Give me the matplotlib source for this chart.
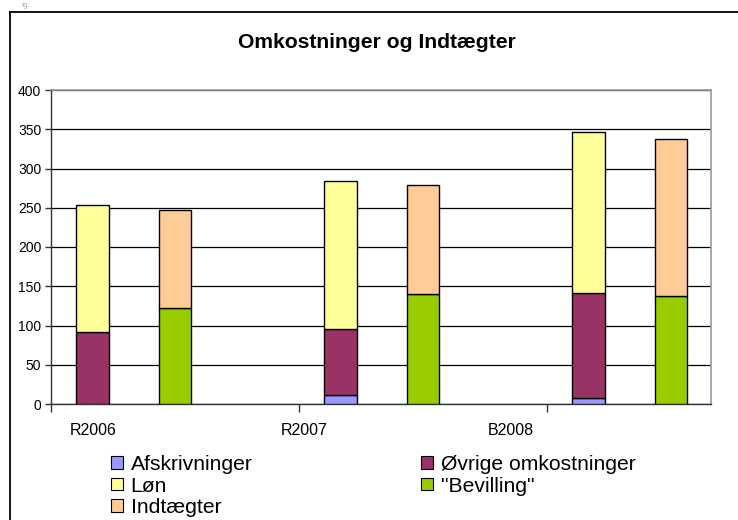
import matplotlib
matplotlib.use("Agg")
import matplotlib.pyplot as plt
import numpy as np
from matplotlib.patches import Patch
from matplotlib.lines import Line2D

plt.rcParams['font.family'] = ['Liberation Sans', 'DejaVu Sans']

# ---- data ----
categories = ["R2006", "R2007", "B2008"]
afskrivninger = [0, 11, 8]
oevrige = [92, 84, 133]
loen = [162, 189, 206]
bevilling = [122, 140, 137]
indtaegter = [125, 139, 201]
yticks = [0, 50, 100, 150, 200, 250, 300, 350, 400]

# ---- styles / layout ----
C_AFS = "#9999FF"
C_OEV = "#993366"
C_LOEN = "#FFFF99"
C_BEV = "#99CC00"
C_IND = "#FFCC99"

W, H = 738, 520
fig = plt.figure(figsize=(W / 100, H / 100), dpi=100)

# outer chart border (cropped at right and bottom)
fig.add_artist(Line2D([10 / W, 10 / W], [0, 1 - 12 / H], transform=fig.transFigure,
                      color="black", lw=1.3))
fig.add_artist(Line2D([10 / W, 1], [1 - 12 / H, 1 - 12 / H], transform=fig.transFigure,
                      color="black", lw=1.3))
fig.text(22 / W, 1 - 1 / H, "ig.", family="DejaVu Serif", fontsize=5, color="#aaaaaa",
         ha="left", va="top")

ax = fig.add_axes([51 / W, (H - 404) / H, (711 - 51) / W, (404 - 90) / H])

idx = np.arange(len(categories))
x_cost = idx + 0.167
x_inc = idx + 0.5
bw = 0.133
ek = dict(edgecolor="black", linewidth=1.0, zorder=3)

a = np.array(afskrivninger, float)
o = np.array(oevrige, float)
l = np.array(loen, float)
b = np.array(bevilling, float)
i_ = np.array(indtaegter, float)

ax.bar(x_cost, a, bw, color=C_AFS, **ek)
ax.bar(x_cost, o, bw, bottom=a, color=C_OEV, **ek)
ax.bar(x_cost, l, bw, bottom=a + o, color=C_LOEN, **ek)
ax.bar(x_inc, b, bw, color=C_BEV, **ek)
ax.bar(x_inc, i_, bw, bottom=b, color=C_IND, **ek)

ax.set_xlim(0, 660 / 248)
ax.set_ylim(0, 400)
ax.set_yticks(yticks)
ax.set_yticklabels([str(v) for v in yticks], fontsize=10)
ax.yaxis.grid(True, color="black", lw=0.9, zorder=0)
ax.set_axisbelow(True)

ax.set_xticks(idx)
ax.set_xticklabels([])
ax.tick_params(axis="x", direction="out", length=6, width=1, color="#333333")
ax.tick_params(axis="y", direction="out", length=4, width=1, pad=3, color="#333333")

label_pos = [0.169, 1.02, 1.855]
for xp, name in zip(label_pos, categories):
    ax.text(xp, -0.085, name, transform=ax.get_xaxis_transform(), ha="center",
            va="center", fontsize=11.5)

for side in ("top", "right"):
    ax.spines[side].set_color("#999999")
    ax.spines[side].set_linewidth(1.2)
for side in ("left", "bottom"):
    ax.spines[side].set_color("#333333")
    ax.spines[side].set_linewidth(1.0)

fig.text(377 / W, 1 - 42 / H, "Omkostninger og Indtægter", ha="center", va="center",
         fontsize=15.2, fontweight="bold")

def handle(c):
    return Patch(facecolor=c, edgecolor="black", linewidth=0.8)

leg_kw = dict(loc="upper left", frameon=False, fontsize=15.2, borderpad=0,
              borderaxespad=0, labelspacing=0.12, handlelength=0.55,
              handleheight=0.55, handletextpad=0.38)
leg1 = fig.legend([handle(C_AFS), handle(C_LOEN), handle(C_IND)],
                  ["Afskrivninger", "Løn", "Indtægter"],
                  bbox_to_anchor=(111 / W, 1 - 455 / H), **leg_kw)
leg2 = fig.legend([handle(C_OEV), handle(C_BEV)],
                  ["Øvrige omkostninger", "\"Bevilling\""],
                  bbox_to_anchor=(421 / W, 1 - 455 / H), **leg_kw)

fig.savefig("out.png", dpi=100)
